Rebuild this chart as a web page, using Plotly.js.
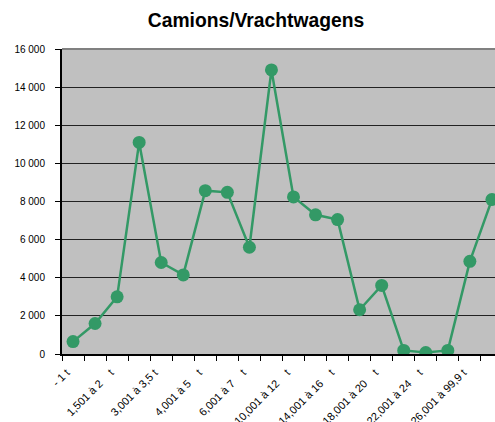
<!DOCTYPE html>
<html>
<head>
<meta charset="utf-8">
<script src="https://cdn.plot.ly/plotly-3.0.1.min.js"></script>
<style>html,body{margin:0;padding:0;background:#fff;overflow:hidden;}</style>
</head>
<body>
<div id="chart" style="width:495px;height:422px;"></div>
<script>
var NB = "\u00A0";
var categories = [
  "- 1 t",
  "1,001 à 1,5 t",
  "1,501 à 2" + NB.repeat(4) + "t",
  "2,001 à 3 t",
  "3,001 à 3,5 t",
  "3,501 à 4 t",
  "4,001 à 5" + NB.repeat(4) + "t",
  "5,001 à 6 t",
  "6,001 à 7" + NB.repeat(4) + "t",
  "7,001 à 10 t",
  "10,001 à 12" + NB.repeat(4) + "t",
  "12,001 à 14 t",
  "14,001 à 16" + NB.repeat(4) + "t",
  "16,001 à 18 t",
  "18,001 à 20" + NB.repeat(4) + "t",
  "20,001 à 22 t",
  "22,001 à 24" + NB.repeat(4) + "t",
  "24,001 à 26 t",
  "26,001 à 99,9 t",
  "+ 100 t"
];
var values = [650, 1600, 3000, 11100, 4800, 4150, 8570, 8480, 5600, 14900,
              8240, 7300, 7050, 2320, 3600, 190, 80, 190, 4860, 8100];
var yTicks = [0, 2000, 4000, 6000, 8000, 10000, 12000, 14000, 16000];
var yTickText = ["0", "2 000", "4 000", "6 000", "8 000", "10 000", "12 000", "14 000", "16 000"];

var xIdx = categories.map(function (c, i) { return i; });
var shownIdx = xIdx.filter(function (i) { return i % 2 === 0; });
var shownText = shownIdx.map(function (i) { return categories[i]; });
// label anchor sits slightly left of the category centre, as in the original
var labelPos = shownIdx.map(function (i) { return i - 0.3; });

var font = "Arial, 'Liberation Sans', sans-serif";
var green = "#339966";

var trace = {
  x: xIdx,
  y: values,
  type: "scatter",
  mode: "lines+markers",
  line: {color: green, width: 2.5},
  marker: {color: green, size: 13},
  cliponaxis: true,
  hoverinfo: "x+y"
};

var layout = {
  width: 495,
  height: 422,
  margin: {l: 62, r: 0, t: 49, b: 68, pad: 0},
  paper_bgcolor: "#ffffff",
  plot_bgcolor: "#c0c0c0",
  showlegend: false,
  font: {family: font, size: 10, color: "#000"},
  title: {
    text: "<b>Camions/Vrachtwagens</b>",
    font: {family: font, size: 19.3, color: "#000"},
    x: 256 / 495, xanchor: "center", xref: "container",
    y: 1 - 20 / 422, yanchor: "middle", yref: "container"
  },
  xaxis: {
    range: [-0.5, 19.14],
    tickmode: "array",
    tickvals: labelPos,
    ticktext: shownText,
    tickangle: -45,
    ticks: "",
    ticklabelstandoff: 6,
    showgrid: false,
    zeroline: false,
    showline: true,
    linecolor: "#000",
    linewidth: 2,
    tickfont: {family: font, size: 11, color: "#000"},
    minor: {tick0: 0.5, dtick: 1, ticks: "outside", ticklen: 5, tickcolor: "#000", tickwidth: 1, showgrid: false},
    fixedrange: true
  },
  yaxis: {
    range: [0, 16000],
    tickmode: "array",
    tickvals: yTicks,
    ticktext: yTickText,
    ticks: "outside",
    ticklen: 5,
    tickcolor: "#000",
    tickwidth: 1,
    ticklabelstandoff: 8,
    showgrid: true,
    gridcolor: "#222",
    gridwidth: 1,
    zeroline: false,
    showline: true,
    linecolor: "#000",
    linewidth: 2,
    tickfont: {family: font, size: 10, color: "#000"},
    fixedrange: true
  },
  shapes: [{
    type: "line", xref: "paper", yref: "paper",
    x0: 0, x1: 1, y0: 1, y1: 1,
    line: {color: "#808080", width: 2}
  }]
};

Plotly.newPlot("chart", [trace], layout, {displayModeBar: false, staticPlot: true});
</script>
</body>
</html>
